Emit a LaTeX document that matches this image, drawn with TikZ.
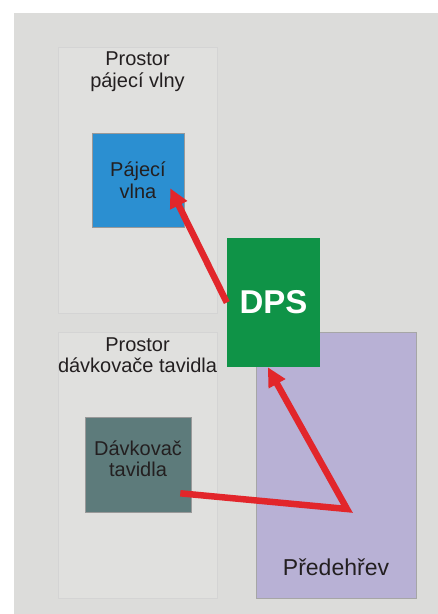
\documentclass[tikz,border=0pt]{standalone}
\usepackage{fontspec}
\setmainfont{Liberation Sans}
\usepackage{tikz}
\usetikzlibrary{arrows,arrows.meta,positioning}

\definecolor{pozadi}{HTML}{DCDCDA}
\definecolor{prostorfill}{HTML}{E0E0DE}
\definecolor{vlnafill}{HTML}{2B8FD1}
\definecolor{dpsfill}{HTML}{0F9347}
\definecolor{tavidlofill}{HTML}{5D7B7B}
\definecolor{ohrevfill}{HTML}{B8B1D5}
\definecolor{sipka}{HTML}{E2262B}
\definecolor{pismo}{HTML}{231F20}

\begin{document}
\begin{tikzpicture}[x=1pt,y=-1pt]

\useasboundingbox (0,0) rectangle (438,614);

%BACKGROUND
\fill[pozadi] (14,13) rectangle (438,614);

%%%%%%%%%%%%%%%%%%%%%%%%%%%%%%%%%%%%%%%%%%%%%%%%%%%%%%%%%%%%%%
%styles
\tikzstyle{prostor}=[draw=black!17,fill=prostorfill,line width=0.6pt,inner sep=0pt,minimum width=159pt,minimum height=266pt]
\tikzstyle{titul}=[text=pismo,inner sep=0pt,align=center,font=\fontsize{20}{21.5}\selectfont]
\tikzstyle{blok}=[draw=black!40,line width=0.6pt,inner sep=0pt,text=pismo,align=center,font=\fontsize{20}{21.5}\selectfont]
\tikzstyle{sipka}=[draw=sipka,line width=6.5pt,-{Triangle[length=19pt,width=18pt]}]

%zones
\node[prostor] (prostor1) at (137.5,180) {};
\node[titul,below=5pt of prostor1.north] (titul1) {Prostor\\pájecí vlny};
\node[prostor] (prostor2) at (137.5,465) {};
\node[titul,below=5.5pt of prostor2.north] (titul2) {Prostor\\dávkovače tavidla};

%wave
\node[blok,fill=vlnafill,minimum width=92pt,minimum height=94pt] (vlna) at (138,180) {Pájecí\\vlna};

%flux
\node[blok,fill=tavidlofill,minimum width=106pt,minimum height=95pt] (tavidlo) at (138,464.5) {};
\node[titul] (tavidlotext) at ([yshift=6pt]tavidlo.center) {Dávkovač\\tavidla};

%preheat
\node[blok,draw=black!35,fill=ohrevfill,minimum width=160pt,minimum height=266pt] (ohrev) at (336,465) {};
\node[titul,anchor=base,font=\fontsize{23}{25}\selectfont] (ohrevtext) at ([yshift=23pt]ohrev.south) {Předehřev};

%board
\node[fill=dpsfill,inner sep=0pt,minimum width=93pt,minimum height=129pt,text=white,font=\fontsize{33}{36}\bfseries] (dps) at (273.5,302.5) {DPS};

%%%%%%%%%%%%%%%%%%%%%%%%%%%%%%%%%%%%%%%%%%%%%%%%%%%%%%%%%%%%%%
%ARROWS
\coordinate (zlom) at (347,509);
%flux->preheat->board
\draw[sipka] ([xshift=-11pt,yshift=19pt]tavidlo.south east) -- (zlom) -- ([xshift=41pt]dps.south west);
%board->wave
\draw[sipka] (dps.west) -- ([xshift=-14pt,yshift=39pt]vlna.south east);
\end{tikzpicture}
\end{document}
